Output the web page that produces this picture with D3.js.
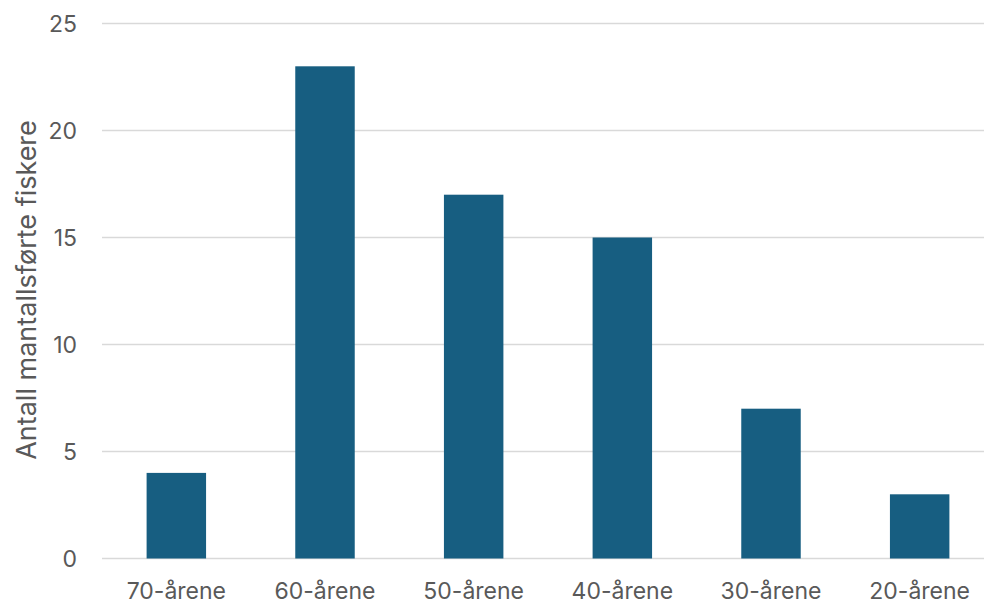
<!DOCTYPE html>
<html><head><meta charset="utf-8">
<script src="https://cdn.jsdelivr.net/npm/d3@7"></script>
<style>html,body{margin:0;padding:0;background:#fff;overflow:hidden}</style>
</head><body>
<svg id="c" width="984" height="604"></svg>
<script>
const categories = ["70-årene","60-årene","50-årene","40-årene","30-årene","20-årene"];
const values = [4,23,17,15,7,3];
const yTicks = [0,5,10,15,20,25];
const yTitle = "Antall mantallsførte fiskere";

(function(){
const svg = d3.select("#c");
const font = "Inter, 'Open Sans', sans-serif";
const mLeft = 102, mRight = 994, mTop = 23.5, mBottom = 558.5;
const x = d3.scaleBand().domain(categories).range([mLeft, mRight]).paddingInner(0.6).paddingOuter(0.3);
const y = d3.scaleLinear().domain([0,25]).range([mBottom, mTop]);

svg.append("g").selectAll("line").data(yTicks).join("line")
  .attr("x1", mLeft).attr("x2", 984)
  .attr("y1", d=>y(d)).attr("y2", d=>y(d))
  .attr("stroke", "#d9d9d9").attr("stroke-width", 1.5);

svg.append("g").selectAll("rect").data(values).join("rect")
  .attr("x", (d,i)=>x(categories[i]))
  .attr("width", x.bandwidth())
  .attr("y", d=>y(d))
  .attr("height", d=>y(0)-y(d))
  .attr("fill", "#175e81");

svg.append("g").selectAll("text").data(yTicks).join("text")
  .attr("x", 77).attr("y", d=>y(d))
  .attr("dy", "0.35em").attr("text-anchor","end")
  .attr("font-family", font).attr("font-size", 23).attr("fill", "#595959")
  .text(d=>d);

svg.append("g").selectAll("text").data(categories).join("text")
  .attr("x", d=>x(d)+x.bandwidth()/2).attr("y", 599)
  .attr("text-anchor","middle")
  .attr("font-family", font).attr("font-size", 23).attr("fill", "#595959")
  .text(d=>d);

svg.append("text")
  .attr("transform", `translate(27,290) rotate(-90)`)
  .attr("dy", "0.35em").attr("text-anchor","middle")
  .attr("font-family", font).attr("font-size", 27).attr("fill", "#595959")
  .text(yTitle);
})();
</script>
</body></html>
